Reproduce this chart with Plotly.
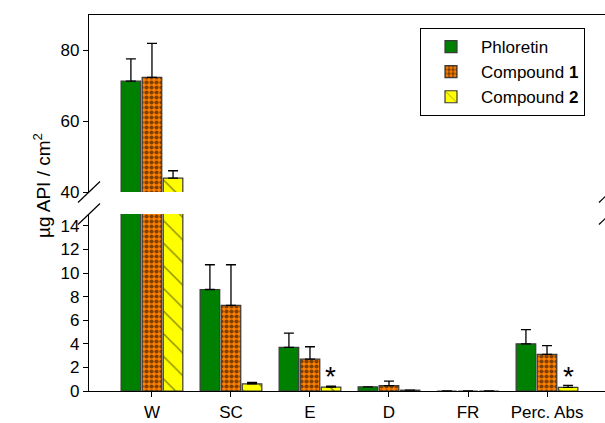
import plotly.graph_objects as go

categories = ["W", "SC", "E", "D", "FR", "Perc. Abs"]
series_names = ["Phloretin", "Compound <b>1</b>", "Compound <b>2</b>"]
phloretin = [71.3, 8.6, 3.7, 0.35, 0.0, 4.0]
phloretin_err = [6.3, 2.1, 1.2, 0.0, 0.0, 1.2]
compound1 = [72.4, 7.25, 2.7, 0.46, 0.0, 3.1]
compound1_err = [9.6, 3.45, 1.05, 0.37, 0.0, 0.75]
compound2 = [43.9, 0.6, 0.33, 0.07, 0.0, 0.3]
compound2_err = [2.1, 0.12, 0.09, 0.0, 0.0, 0.17]
lower_ticks = [0, 2, 4, 6, 8, 10, 12, 14]
upper_ticks = [40, 60, 80]
significant = ["E", "Perc. Abs"]

FONT = "Liberation Sans, Arial, sans-serif"
W, H = 605, 423
L, R, T, B = 89, 0, 15, 32
PW, PH = W - L - R, H - T - B

def px(x):
    return (x - L) / PW

def py(y):
    return (H - B - y) / PH

styles = [
    dict(color="#008000", pattern=dict(shape="")),
    dict(color="#ff8000", pattern=dict(shape=".", fgcolor="black", bgcolor="#ff8000", size=5, solidity=0.55)),
    dict(color="#ffff00", pattern=dict(shape="\\", fgcolor="black", bgcolor="#ffff00", size=16, solidity=0.08)),
]
data = [(phloretin, phloretin_err), (compound1, compound1_err), (compound2, compound2_err)]

fig = go.Figure()
for xa, ya, show in (("x", "y", True), ("x2", "y2", False)):
    for name, (vals, errs), st in zip(series_names, data, styles):
        fig.add_trace(go.Bar(
            x=categories, y=vals, name=name, xaxis=xa, yaxis=ya,
            showlegend=show, legendgroup=name,
            marker=dict(color=st["color"], pattern=st["pattern"],
                        line=dict(color="#3a3a3a", width=1.2)),
            error_y=dict(type="data", array=errs, arrayminus=[0] * len(errs),
                         symmetric=False, color="black", thickness=1.3, width=5),
        ))

gap_lo = 214
gap_hi = 192
axis_common = dict(showgrid=False, zeroline=False, showline=True, linecolor="black",
                   linewidth=1.2, ticks="outside", ticklen=5, tickcolor="black",
                   tickfont=dict(family=FONT, size=17, color="black"))

fig.update_layout(
    width=W, height=H, margin=dict(l=L, r=R, t=T, b=B),
    paper_bgcolor="white", plot_bgcolor="white",
    barmode="group", bargap=0.2, bargroupgap=0.07,
    font=dict(family=FONT, size=17, color="black"),
    xaxis=dict(domain=[0, 1], anchor="y", range=[-0.797, 5.734], **axis_common),
    xaxis2=dict(domain=[0, 1], anchor="y2", matches="x", side="top", showgrid=False,
                zeroline=False, showline=True, linecolor="black", linewidth=1.2,
                showticklabels=False, ticks=""),
    yaxis=dict(domain=[0, py(gap_lo)], anchor="x", range=[0, 15], tickvals=lower_ticks, **axis_common),
    yaxis2=dict(domain=[py(gap_hi), 1], anchor="x2", range=[40, 90], tickvals=upper_ticks, **axis_common),
    legend=dict(x=px(420), y=py(28), xanchor="left", yanchor="top",
                bordercolor="black", borderwidth=1, bgcolor="white",
                font=dict(family=FONT, size=17, color="black"),
                tracegroupgap=0, itemwidth=50),
    showlegend=True,
)

fig.add_annotation(text="µg API / cm<sup>2</sup>", textangle=-90, xref="paper", yref="paper",
                   x=px(42), y=py(186), xanchor="center", yanchor="middle", showarrow=False,
                   font=dict(family=FONT, size=19, color="black"))

for cat in significant:
    fig.add_annotation(text="*", x=cat, y=1.48, xref="x", yref="y", xshift=21, yshift=-3,
                       showarrow=False, yanchor="middle",
                       font=dict(family=FONT, size=28, color="black"))

# axis break marks
for cy in (gap_hi, gap_lo):
    fig.add_shape(type="line", xref="paper", yref="paper",
                  x0=px(78), y0=py(cy + 10.5), x1=px(100), y1=py(cy - 10.5),
                  line=dict(color="black", width=1.2))
    fig.add_shape(type="line", xref="paper", yref="paper",
                  x0=px(599), y0=py(cy + 10.5), x1=px(621), y1=py(cy - 10.5),
                  line=dict(color="black", width=1.2))

fig.write_html("out.html", config={"displayModeBar": False},
               post_script="document.body.style.margin='0px';document.body.style.padding='0px';")
